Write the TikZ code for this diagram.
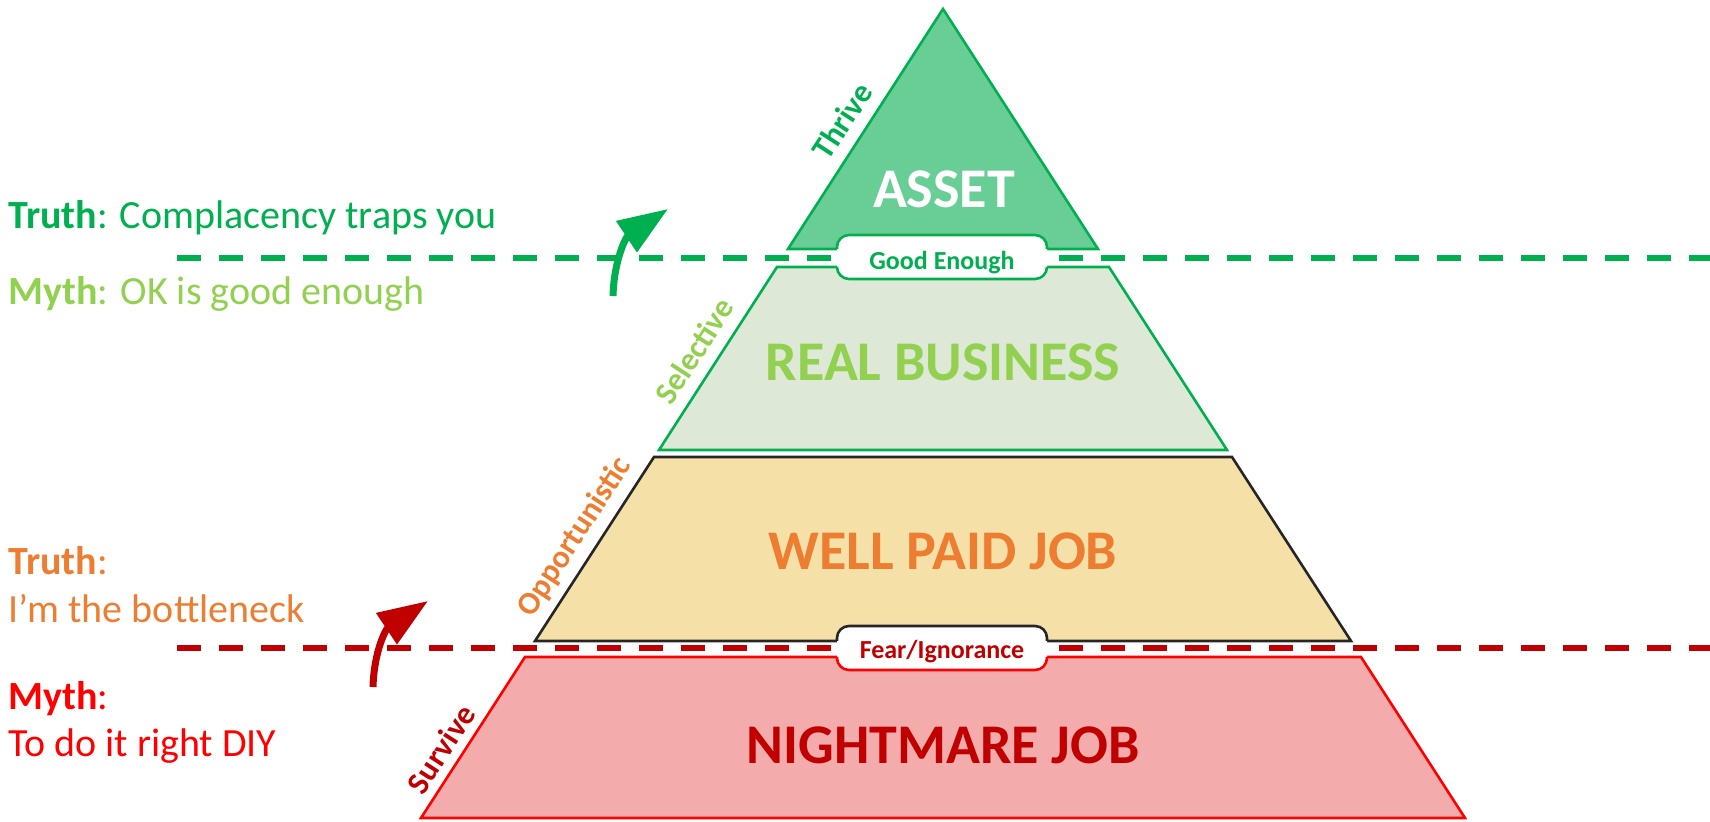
\documentclass[tikz,border=0pt]{standalone}
\usepackage{fontspec}
\setmainfont{Carlito}
\usetikzlibrary{arrows.meta}

\definecolor{darkgreen}{RGB}{0,176,80}
\definecolor{lightgreen}{RGB}{146,208,80}
\definecolor{jobOrange}{RGB}{237,125,49}
\definecolor{darkred}{RGB}{192,0,0}
\definecolor{brightred}{RGB}{255,0,0}
\definecolor{assetFill}{RGB}{104,206,150}
\definecolor{bizFill}{RGB}{221,232,214}
\definecolor{paidFill}{RGB}{245,225,168}
\definecolor{nightFill}{RGB}{244,171,171}
\definecolor{paidLine}{RGB}{38,38,38}

\tikzset{
  tier/.style={line width=1.3pt, line join=miter},
  tierlabel/.style={font=\bfseries\fontsize{28}{28}\selectfont, inner sep=0pt},
  sidelabel/.style={font=\bfseries\fontsize{16}{16}\selectfont, rotate=57, inner sep=0pt},
  gatelabel/.style={font=\bfseries\fontsize{13}{13}\selectfont, inner sep=0pt, anchor=base},
  notetext/.style={font=\fontsize{20}{20}\selectfont, inner sep=0pt, anchor=base west},
  barrier/.style={line width=2.75pt, dash pattern=on 12pt off 9pt},
  breakarrow/.style={line width=3.5pt, -{Triangle[length=25pt,width=18pt]}},
}

\begin{document}
\begin{tikzpicture}[x=0.5pt, y=-0.5pt]
\useasboundingbox (0,0) rectangle (1710,822);

% barriers
\coordinate (gl) at (177,258);
\coordinate (gr) at (1710,258);
\coordinate (rl) at (177,648);
\coordinate (rr) at (1710,648);
\draw[barrier, darkgreen] (gl) -- (gr);
\draw[barrier, darkred] (rl) -- (rr);

% pyramid
\draw[tier, darkgreen, fill=assetFill] (943,9) -- (1098,249) -- (788,249) -- cycle;
\draw[tier, darkgreen, fill=bizFill] (777,267) -- (1109,267) -- (1227,450) -- (659,450) -- cycle;
\draw[tier, paidLine, fill=paidFill] (654,457) -- (1232,457) -- (1351,641) -- (535,641) -- cycle;
\draw[tier, brightred, fill=nightFill] (525,657) -- (1361,657) -- (1465,818) -- (421,818) -- cycle;

% gates
\fill[white, rounded corners=6] (837,235) rectangle (1047,279);
\draw[tier, darkgreen, rounded corners=6] (837,249) -- (837,235) -- (1047,235) -- (1047,249);
\draw[tier, darkgreen, rounded corners=6] (837,267) -- (837,279) -- (1047,279) -- (1047,267);
\fill[white, rounded corners=6] (837,626) rectangle (1047,670);
\draw[tier, paidLine, rounded corners=6] (837,641) -- (837,626) -- (1047,626) -- (1047,641);
\draw[tier, brightred, rounded corners=6] (837,657) -- (837,670) -- (1047,670) -- (1047,657);
\node[gatelabel, darkgreen] (good) at (942,270) {Good Enough};
\node[gatelabel, darkred] (fear) at (942,659) {Fear/Ignorance};

% tier names
\node[tierlabel, white] (asset) at (944,189) {ASSET};
\node[tierlabel, lightgreen] (biz) at (943,362) {REAL BUSINESS};
\node[tierlabel, jobOrange] (paid) at (943,551) {WELL PAID JOB};
\node[tierlabel, darkred] (night) at (943,745) {NIGHTMARE JOB};

% edge labels
\node[sidelabel, darkgreen] (thrive) at (842,121) {Thrive};
\node[sidelabel, lightgreen] (select) at (694,351) {Selective};
\node[sidelabel, jobOrange] (oppor) at (575,537) {Opportunistic};
\node[sidelabel, darkred] (surv) at (441,749) {Survive};

% notes
\node[notetext, darkgreen] (gtruth) at (8,229) {\textbf{Truth}: Complacency traps you};
\node[notetext, lightgreen] (gmyth) at (8,305) {\textbf{Myth}: OK is good enough};
\node[notetext, jobOrange] (otruth) at (8,575) {\textbf{Truth}:};
\node[notetext, jobOrange] (otruth2) at (8,623) {I’m the bottleneck};
\node[notetext, brightred] (rmyth) at (8,710) {\textbf{Myth}:};
\node[notetext, brightred] (rmyth2) at (8,757) {To do it right DIY};

% arrows
\coordinate (gtail) at (613,296);
\coordinate (ghead) at (668,209);
\coordinate (rtail) at (373,687);
\coordinate (rhead) at (428,601);
\draw[breakarrow, darkgreen] (gtail) .. controls +(1,-36) and +(-42,28) .. (ghead);
\draw[breakarrow, darkred] (rtail) .. controls +(1,-36) and +(-42,28) .. (rhead);
\end{tikzpicture}
\end{document}
